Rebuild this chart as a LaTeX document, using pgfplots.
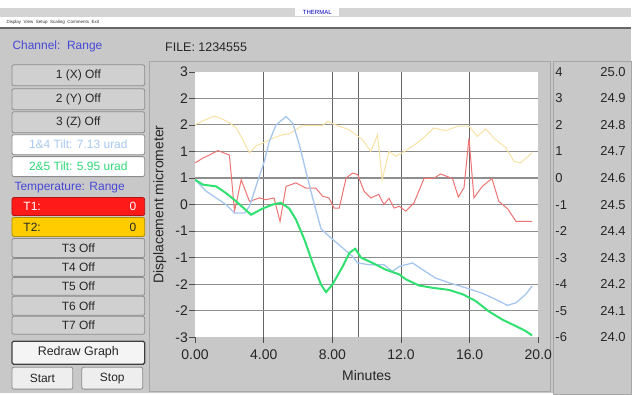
\documentclass[border=0pt]{standalone}
\usepackage{pgfplots}
\pgfplotsset{compat=1.18}
\usepackage{fontspec}
\setmainfont{Liberation Sans}
\definecolor{bg}{HTML}{C8C8C8}
\definecolor{titlegray}{HTML}{D4D4D4}
\definecolor{btnfill}{HTML}{D0D0D0}
\definecolor{btnedge}{HTML}{8C8C8C}
\definecolor{lblblue}{HTML}{4848D8}
\definecolor{tiltblue}{HTML}{A8C8F0}
\definecolor{tiltgreen}{HTML}{30D878}
\definecolor{tred}{HTML}{FF1A1A}
\definecolor{tyellow}{HTML}{FFCC00}
\definecolor{cyellow}{HTML}{F8E2A4}
\definecolor{cred}{HTML}{EE7474}
\definecolor{cblue}{HTML}{A6C6F0}
\definecolor{cgreen}{HTML}{30E070}
\definecolor{hgrid}{HTML}{8E8E8E}
\definecolor{vgrid}{HTML}{666666}
\newcommand{\fs}[1]{\fontsize{#1}{#1}\selectfont}
\begin{document}
\begin{tikzpicture}[x=1pt,y=1pt]
% window background
\fill[bg] (0,0) rectangle (632,394);
\fill[white] (0,366) rectangle (632,394);
\fill[titlegray] (0,377) rectangle (632,386);
\fill[white!92!titlegray] (296,377.5) rectangle (340,385.5);
\node[font=\fs{6}, text=blue!75!black] at (318,381.5) {THERMAL};
\node[anchor=west, font=\fs{4.5}, text=black!80] at (3,372) {Display\ \ View\ \ Setup\ \ Scaling\ \ Comments\ \ Exit};
\fill[black!60] (0,364.5) rectangle (632,367);
% panels
\draw[black!35, line width=0.8pt, fill=bg] (150,2) rectangle (552,332);
\draw[black!35, line width=0.8pt, fill=bg] (555,-1) rectangle (633,332);
% header texts
\node[anchor=west, font=\fs{12}, text=lblblue] at (9,347) {Channel:\ \ Range};
\node[anchor=west, font=\fs{12.5}, text=black!85] at (162,347) {FILE: 1234555};
% buttons
\tikzset{btn/.style={draw=btnedge, fill=btnfill, rounded corners=2pt, line width=0.8pt},
         btxt/.style={font=\fs{12}, text=black!85}}
\draw[btn] (12,308) rectangle (145,329); \node[btxt] at (78.5,318.5) {1 (X) Off};
\draw[btn] (12,284) rectangle (145,305); \node[btxt] at (78.5,294.5) {2 (Y) Off};
\draw[btn] (12,261) rectangle (145,282); \node[btxt] at (78.5,271.5) {3 (Z) Off};
\draw[btn, fill=white] (12,239) rectangle (145,259); \node[font=\fs{12}, text=tiltblue] at (78.5,249) {1\&4 Tilt: 7.13 urad};
\draw[btn, fill=white] (12,217) rectangle (145,237); \node[font=\fs{12}, text=tiltgreen] at (78.5,227) {2\&5 Tilt: 5.95 urad};
\node[anchor=west, font=\fs{12}, text=lblblue] at (11,206) {Temperature: Range};
\draw[btn, fill=tred, draw=tred!70!black] (12,178) rectangle (145,196);
\node[anchor=west, font=\fs{12}, text=white] at (20,187) {T1:};
\node[anchor=east, font=\fs{12}, text=white] at (140,187) {0};
\draw[btn, fill=tyellow, draw=tyellow!70!black] (12,157) rectangle (145,176);
\node[anchor=west, font=\fs{12}, text=black!85] at (20,166.5) {T2:};
\node[anchor=east, font=\fs{12}, text=black!85] at (140,166.5) {0};
\draw[btn] (12,136) rectangle (145,155); \node[btxt] at (78.5,145.5) {T3 Off};
\draw[btn] (12,117) rectangle (145,135); \node[btxt] at (78.5,126) {T4 Off};
\draw[btn] (12,98) rectangle (145,116); \node[btxt] at (78.5,107) {T5 Off};
\draw[btn] (12,78) rectangle (145,97); \node[btxt] at (78.5,87.5) {T6 Off};
\draw[btn] (12,59) rectangle (145,77); \node[btxt] at (78.5,68) {T7 Off};
\draw[draw=black!75, fill=white!80!bg, rounded corners=1.5pt, line width=1.3pt] (12,29) rectangle (145,52);
\node[font=\fs{12.5}, text=black!85] at (78.5,40.5) {Redraw Graph};
\draw[btn, fill=white!70!bg] (12,4) rectangle (73,26); \node[btxt] at (42.5,15) {Start};
\draw[btn, fill=white!70!bg] (82,4) rectangle (143,26); \node[btxt] at (112.5,15) {Stop};

% main axis
\begin{axis}[at={(195.5pt,56pt)}, anchor=south west, scale only axis,
  width=344pt, height=266pt,
  xmin=0, xmax=20, ymin=-3, ymax=3,
  axis background/.style={fill=white},
  axis line style={draw=none},
  xtick={0,4,8,12,16,20}, xticklabels={0.00,4.00,8.00,12.0,16.0,20.0},
  ytick={-3,-2.4,-1.8,-1.2,-0.6,0,0.6,1.2,1.8,2.4,3},
  yticklabels={-3,-2,-2,-1,-1,0,1,1,2,2,3},
  tick pos=left, tick align=outside, major tick length=6pt,
  tick style={black!70, line width=0.6pt},
  extra x ticks={4,8,9.5,12,16}, extra x tick labels={},
  extra x tick style={grid=major, major tick length=0pt, major grid style={vgrid, line width=0.9pt}},
  extra y ticks={-2.4,-1.8,-1.2,-0.6,0,0.6,1.2,1.8,2.4}, extra y tick labels={},
  extra y tick style={grid=major, major tick length=0pt, major grid style={hgrid, line width=1.1pt}},
  ticklabel style={font=\fs{14}, text=black!85},
  xticklabel style={anchor=north, inner sep=0pt, yshift=-6pt},
  yticklabel style={anchor=east, inner sep=0pt, xshift=-1pt},
  xlabel={Minutes}, ylabel={Displacement micrometer},
  label style={font=\fs{14}, text=black!85},
  xlabel style={at={(axis description cs:0.5,0)}, anchor=center, yshift=-38pt},
  ylabel style={at={(axis description cs:-0.1032,0.5)}, anchor=center},
  clip=true]
\addplot[cyellow, line width=1pt] coordinates {(0,1.80)(0.5,1.90)(1.13,2.0)(1.6,1.93)(2.0,1.85)(2.4,1.73)(2.8,1.45)(3.17,1.17)(3.55,1.32)(3.94,1.39)(4.52,1.50)(5.1,1.58)(5.5,1.60)(6.27,1.79)(7.43,1.79)(7.72,1.88)(8.2,1.80)(8.98,1.69)(9.75,1.47)(10.24,1.2)(10.63,1.58)(10.9,0.56)(11.3,1.2)(11.7,1.09)(12.2,1.2)(12.86,1.37)(13.4,1.54)(13.9,1.73)(14.6,1.67)(15.3,1.77)(15.96,1.77)(16.44,1.54)(16.93,1.71)(17.5,1.47)(18.1,1.29)(18.58,0.98)(18.96,0.94)(19.64,1.17)};
\addplot[cred, line width=1pt] coordinates {(0,0.94)(0.45,1.05)(0.84,1.12)(1.33,1.22)(1.72,1.16)(2.0,1.12)(2.3,-0.15)(2.69,0.56)(3.17,0.07)(3.75,0.15)(4.14,0.11)(4.6,0.15)(4.95,-0.38)(5.3,0.41)(5.88,0.49)(6.46,0.37)(7.04,0.37)(7.43,0.19)(7.8,0.15)(8.1,-0.08)(8.4,-0.08)(8.8,0.60)(9.17,0.71)(9.47,0.68)(9.85,0.30)(10.24,0.15)(10.7,0.23)(11.0,0.0)(11.3,0.14)(11.6,-0.08)(11.9,-0.04)(12.28,-0.15)(12.76,0.04)(13.34,0.59)(13.9,0.59)(14.3,0.69)(15.0,0.59)(15.34,0.17)(15.67,0.38)(15.96,1.5)(16.25,0.15)(16.73,0.41)(17.3,0.59)(17.7,0.07)(18.2,-0.09)(18.7,-0.38)(19.64,-0.38)};
\addplot[cblue, line width=1.3pt] coordinates {(0,0.56)(0.65,0.30)(1.23,0.15)(1.8,0.0)(2.3,-0.19)(2.88,-0.19)(3.17,-0.04)(3.55,0.41)(4.04,0.98)(4.33,1.43)(4.72,1.80)(5.3,1.99)(5.69,1.84)(6.08,1.35)(6.46,0.75)(6.85,0.15)(7.34,-0.55)(7.9,-0.75)(8.6,-0.98)(9.17,-1.17)(9.47,-1.32)(10.15,-1.36)(11.0,-1.36)(11.5,-1.51)(11.9,-1.40)(12.67,-1.32)(13.25,-1.47)(14.0,-1.66)(14.8,-1.77)(15.76,-1.88)(16.7,-2.0)(17.5,-2.14)(18.2,-2.28)(18.7,-2.22)(19.27,-2.03)(19.64,-1.84)};
\addplot[cgreen, line width=2pt] coordinates {(0,0.56)(0.45,0.45)(1.23,0.41)(1.8,0.26)(2.4,0.07)(3.26,-0.23)(3.94,-0.09)(4.52,0.0)(5.0,0.04)(5.49,-0.09)(5.88,-0.34)(6.37,-0.79)(6.85,-1.32)(7.34,-1.81)(7.63,-1.98)(8.0,-1.81)(8.6,-1.40)(9.0,-1.09)(9.33,-1.0)(9.67,-1.20)(10.34,-1.32)(11.1,-1.47)(11.9,-1.58)(12.28,-1.69)(13.05,-1.83)(13.8,-1.88)(14.8,-1.93)(15.6,-2.03)(16.35,-2.18)(17.1,-2.41)(17.9,-2.60)(18.7,-2.75)(19.27,-2.86)(19.64,-2.96)};
\end{axis}

% right scale 1
\begin{axis}[at={(195.5pt,56pt)}, anchor=south west, scale only axis,
  width=344pt, height=266pt,
  xmin=0, xmax=20, ymin=-6, ymax=4,
  hide x axis, ytick pos=right, axis line style={draw=none},
  tick style={draw=none},
  ytick={-6,-5,-4,-3,-2,-1,0,1,2,3,4},
  yticklabels={-6,-5,-4,-3,-2,-1,0,1,2,3,4},
  major tick length=0pt,
  yticklabel style={anchor=west, inner sep=0pt, xshift=17pt, font=\fs{13}, text=black!85}]
\end{axis}

% right scale 2
\begin{axis}[at={(195.5pt,56pt)}, anchor=south west, scale only axis,
  width=344pt, height=266pt,
  xmin=0, xmax=20, ymin=24, ymax=25,
  hide x axis, ytick pos=right, axis line style={draw=none},
  tick style={draw=none},
  ytick={24,24.1,24.2,24.3,24.4,24.5,24.6,24.7,24.8,24.9,25},
  yticklabels={24.0,24.1,24.2,24.3,24.4,24.5,24.6,24.7,24.8,24.9,25.0},
  major tick length=0pt,
  yticklabel style={anchor=west, inner sep=0pt, xshift=62pt, font=\fs{13}, text=black!85}]
\end{axis}
\end{tikzpicture}
\end{document}
